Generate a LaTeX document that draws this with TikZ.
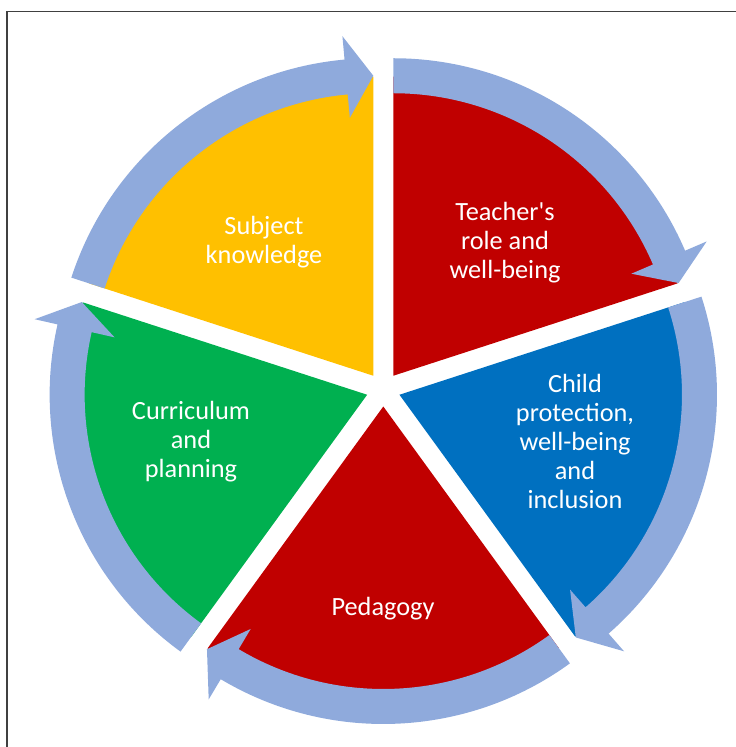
\documentclass[tikz,border=0pt]{standalone}
\usepackage{fontspec}
\newfontfamily\calibfont{Carlito}
\usetikzlibrary{calc}
\definecolor{arrowblue}{HTML}{8FAADC}
\definecolor{segyellow}{HTML}{FFC000}
\definecolor{segred}{HTML}{C00000}
\definecolor{segblue}{HTML}{0070C0}
\definecolor{seggreen}{HTML}{00B050}
\definecolor{framegray}{HTML}{404040}
\tikzset{
  seglabel/.style={text=white, align=center, font=\calibfont\fontsize{26.3}{29}\selectfont, inner sep=0pt},
  ringarrow/.style={fill=arrowblue, draw=none},
}
\begin{document}
\begin{tikzpicture}[x=1pt,y=1pt]
\useasboundingbox (0,0) rectangle (736,747);
\draw[framegray, line width=1.5pt] (7,0) -- (7,735.5) -- (736,735.5);
\coordinate (C) at (383.3,357.5);
\foreach \s/\e/\b/\c/\n in
  {90/18/54/segred/1, 18/-54/-18/segblue/2, -54/-126/-90/segred/3,
   -126/-198/-162/seggreen/4, 162/90/126/segyellow/5}{
  \coordinate (O\n) at ($(C)+(\b:17pt)$);
  \fill[\c] (O\n) -- ($(O\n)+(\s:299pt)$) arc[start angle=\s, end angle=\e, radius=299pt] -- cycle;
}
\foreach \s/\e/\n [evaluate=\e as \h using \e+5.2] in
  {90/18/1, 18/-54/2, -54/-126/3, -126/-198/4, 162/90/5}{
  \fill[ringarrow] ($(O\n)+(\s:317.5pt)$) arc[start angle=\s, end angle=\h, radius=317.5pt]
    -- ($(O\n)+(\h:341pt)$) -- ($(O\n)+(\e:300pt)$) -- ($(O\n)+(\h:259pt)$)
    -- ($(O\n)+(\h:282.5pt)$) arc[start angle=\h, end angle=\s, radius=282.5pt] -- cycle;
}
\node[seglabel] (subject) at (264,504.5) {Subject\\knowledge};
\node[seglabel] (teacher) at (505,504) {Teacher's\\role and\\well-being};
\node[seglabel] (child) at (575,306) {Child\\protection,\\well-being\\and\\inclusion};
\node[seglabel] (pedagogy) at (383,138) {Pedagogy};
\node[seglabel] (curriculum) at (191,305.5) {Curriculum\\and\\planning};
\end{tikzpicture}
\end{document}
